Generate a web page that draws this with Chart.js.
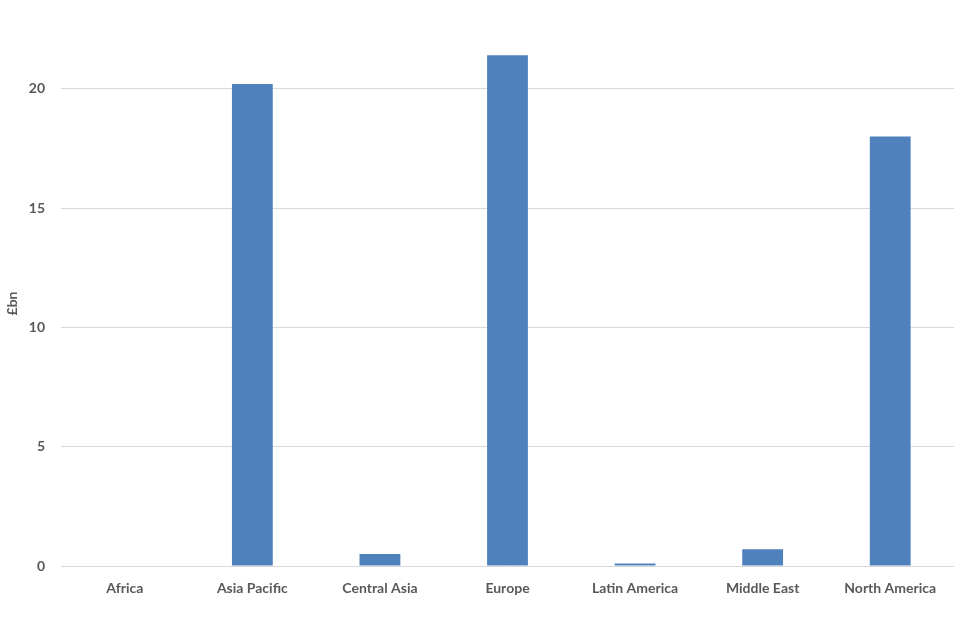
<!DOCTYPE html>
<html lang="en">

<head>
    <meta charset="UTF-8">
    <title>£bn by region</title>
    <script src="https://cdn.jsdelivr.net/npm/chart.js"></script>
    <style>
        html, body { margin: 0; padding: 0; background: #fff; }
        .grafico { width: 960px; height: 640px; }
    </style>
</head>

<body>
    <div class="grafico">
        <canvas id="myChart"></canvas>
    </div>
</body>

<script>
    const regioes = ['Africa', 'Asia Pacific', 'Central Asia', 'Europe', 'Latin America', 'Middle East', 'North America'];
    const valores = [0, 20.2, 0.5, 21.4, 0.1, 0.7, 18.0];
    const ticksY = [0, 5, 10, 15, 20];

    const ctx = document.getElementById('myChart');
    const fonte = { family: 'Lato, "Open Sans", sans-serif', size: 14, weight: 'bold' };

    new Chart(ctx, {
        type: 'bar',
        data: {
            labels: regioes,
            datasets: [{
                label: '£bn',
                data: valores,
                backgroundColor: '#4f81bd',
                barPercentage: 0.32,
                categoryPercentage: 1
            }]
        },
        options: {
            responsive: true,
            maintainAspectRatio: false,
            animation: false,
            layout: { padding: { top: 41, right: 6, left: 0, bottom: 0 } },
            plugins: { legend: { display: false }, tooltip: { enabled: false } },
            scales: {
                x: {
                    grid: { display: false },
                    border: { display: false },
                    ticks: { color: '#595959', font: fonte, padding: 6 },
                    afterFit: function (scale) { scale.height = 74; }
                },
                y: {
                    min: 0,
                    max: 22,
                    grid: { color: '#d9d9d9', lineWidth: 1, drawTicks: false },
                    border: { display: false },
                    ticks: { color: '#595959', font: fonte, padding: 16, stepSize: 5 },
                    afterBuildTicks: function (axis) {
                        axis.ticks = ticksY.map(v => ({ value: v }));
                    },
                    title: { display: true, text: '£bn', color: '#595959', font: fonte, padding: { top: 4, bottom: 0 } },
                    afterFit: function (scale) { scale.width = 61; }
                }
            }
        }
    });
</script>

</html>
